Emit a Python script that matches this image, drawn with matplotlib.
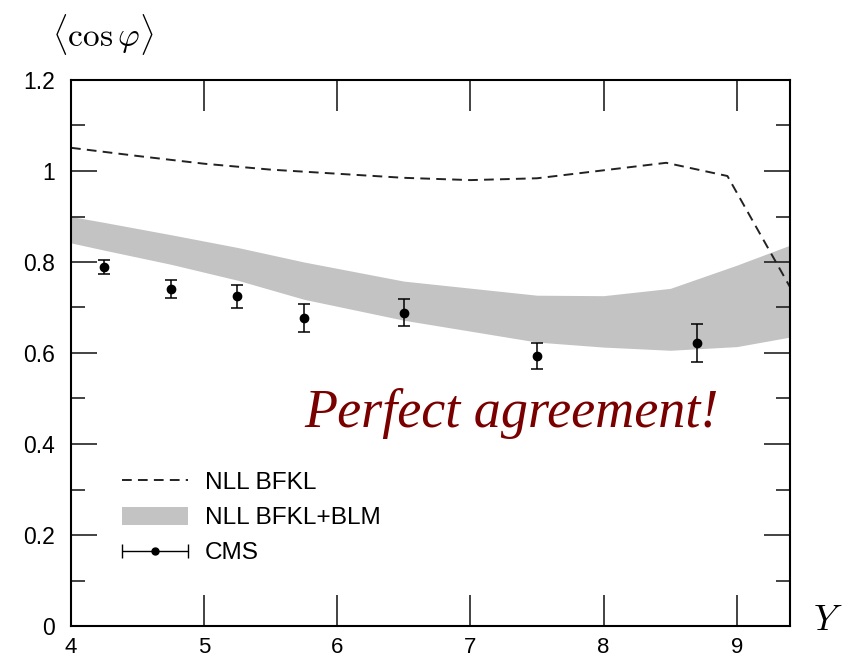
import matplotlib
matplotlib.use("Agg")
import numpy as np
import matplotlib.pyplot as plt
from matplotlib.lines import Line2D
from matplotlib.patches import Patch
from matplotlib.legend_handler import HandlerErrorbar
from matplotlib.ticker import MultipleLocator

plt.rcParams['font.family'] = ['Liberation Sans', 'DejaVu Sans']
plt.rcParams['mathtext.fontset'] = 'cm'

# NLL BFKL (dashed curve)
y_nll = [4.0, 4.5, 5.0, 5.5, 6.0, 6.5, 7.0, 7.5, 8.47, 8.93, 9.4]
cos_nll = [1.051, 1.033, 1.016, 1.003, 0.994, 0.985, 0.980, 0.984, 1.018, 0.989, 0.745]

# NLL BFKL+BLM band
y_blm = [4.0, 4.25, 4.75, 5.25, 5.75, 6.5, 7.5, 8.0, 8.5, 9.0, 9.4]
blm_hi = [0.900, 0.887, 0.860, 0.832, 0.800, 0.758, 0.727, 0.726, 0.742, 0.793, 0.837]
blm_lo = [0.842, 0.826, 0.795, 0.760, 0.718, 0.672, 0.624, 0.613, 0.606, 0.614, 0.635]

# CMS data
y_cms = [4.25, 4.75, 5.25, 5.75, 6.5, 7.5, 8.7]
cos_cms = [0.789, 0.740, 0.725, 0.677, 0.689, 0.593, 0.622]
err_cms = [0.016, 0.020, 0.025, 0.030, 0.030, 0.028, 0.042]

fig = plt.figure(figsize=(8.55, 6.61), dpi=100)
ax = fig.add_axes([71 / 855, 1 - 626 / 661, 719 / 855, 546 / 661])

ax.fill_between(y_blm, blm_lo, blm_hi, color='#c3c3c3', lw=0, zorder=1)
ax.plot(y_nll, cos_nll, color='#222222', lw=1.4, dashes=(5, 3.2), zorder=2)
ax.errorbar(y_cms, cos_cms, yerr=err_cms, fmt='o', color='black', ms=6,
            capsize=4, elinewidth=1.1, capthick=1.1, zorder=3)

ax.set_xlim(4, 9.4)
ax.set_ylim(0, 1.2)
ax.xaxis.set_major_locator(MultipleLocator(1))
ax.yaxis.set_minor_locator(MultipleLocator(0.1))
ax.set_yticks([0, 0.2, 0.4, 0.6, 0.8, 1.0, 1.2])
ax.set_yticklabels(['0', '0.2', '0.4', '0.6', '0.8', '1', '1.2'])
ax.tick_params(axis='both', which='major', direction='in', length=19, width=1.2,
               labelsize=16.5, top=True, right=True, color='#222222')
ax.tick_params(axis='x', which='major', length=22, pad=8, labelsize=16)
ax.tick_params(axis='y', which='major', pad=11.5)
ax.tick_params(axis='y', which='minor', direction='in', length=10, width=1.2,
               right=True, color='#222222')
for s in ax.spines.values():
    s.set_linewidth(1.5)

fig.text(52 / 855, 1 - 35 / 661, r'$\langle \cos\varphi \rangle$', fontsize=24,
         ha='left', va='center')
fig.text(828 / 855, 1 - 620 / 661, r'$Y$', fontsize=26, ha='center', va='center')

ax.text(0.325, 0.39, 'Perfect agreement!', transform=ax.transAxes,
        fontsize=39, color='#7a0000', style='italic',
        family=['Liberation Serif', 'DejaVu Serif'], ha='left', va='center')

# legend proxy for the CMS points: horizontal bar with end caps
cms_proxy = ax.errorbar([np.nan], [np.nan], xerr=[0.1], fmt='o', color='black',
                        ms=5, capsize=5, elinewidth=1.0, capthick=1.0)
handles = [Line2D([], [], color='#222222', lw=1.4, dashes=(5, 3.2)),
           Patch(facecolor='#c3c3c3', edgecolor='none'),
           cms_proxy]
labels = ['NLL BFKL', 'NLL BFKL+BLM', 'CMS']
ax.legend(handles, labels, loc='upper left', bbox_to_anchor=(0.071, 0.283),
          frameon=False, fontsize=17.6, handlelength=2.7, handleheight=0.8,
          handletextpad=0.7, labelspacing=0.5, borderpad=0, borderaxespad=0,
          handler_map={type(cms_proxy): HandlerErrorbar(xerr_size=1.35)})

fig.savefig('out.png', dpi=100)
